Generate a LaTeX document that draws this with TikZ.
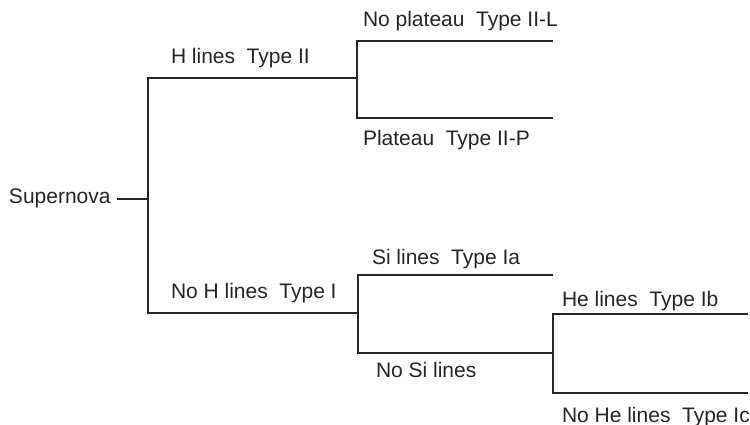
\documentclass[tikz,border=0pt]{standalone}
\usepackage{fontspec}
\setmainfont{Liberation Sans}
\definecolor{ink}{HTML}{262626}
\newcommand{\gp}{\hspace{0.55em}}
\begin{document}
\begin{tikzpicture}[x=1pt,y=-1pt,
  lbl/.style={anchor=base west,inner sep=0pt,outer sep=0pt,text=ink,font=\fontsize{21}{24}\selectfont},
  tree/.style={draw=ink,line width=1.3pt}]
\useasboundingbox (0,0) rectangle (750,425);
% labels
\node[lbl] (sn) at (9,204) {Supernova};
\node[lbl] (h2) at (171,64) {H lines\gp Type II};
\node[lbl] (nh) at (171,298) {No H lines\gp Type I};
\node[lbl] (iil) at (363,27) {No plateau\gp Type II-L};
\node[lbl] (iip) at (363,146) {Plateau\gp Type II-P};
\node[lbl] (ia) at (372,264) {Si lines\gp Type Ia};
\node[lbl] (nsi) at (376,377) {No Si lines};
\node[lbl] (ib) at (562,306) {He lines\gp Type Ib};
\node[lbl] (ic) at (562,422) {No He lines\gp Type Ic};
% junction coordinates
\coordinate (s0) at (117,199);
\coordinate (s1) at (148,199);
\coordinate (a1) at (148,78);
\coordinate (a2) at (357,78);
\coordinate (b1) at (148,313);
\coordinate (b2) at (358,313);
\coordinate (c1) at (357,41);
\coordinate (c2) at (553,41);
\coordinate (d1) at (357,118);
\coordinate (d2) at (553,118);
\coordinate (e1) at (358,275);
\coordinate (e2) at (553,275);
\coordinate (f1) at (358,353);
\coordinate (f2) at (553,353);
\coordinate (g1) at (553,314);
\coordinate (g2) at (748,314);
\coordinate (h1) at (553,393);
\coordinate (h2e) at (748,393);
% connectors
\draw[tree] (s0) -- (s1);
\draw[tree] (a2) -- (a1) -- (b1) -- (b2);
\draw[tree] (c2) -- (c1) -- (d1) -- (d2);
\draw[tree] (e2) -- (e1) -- (f1) -- (f2);
\draw[tree] (g2) -- (g1) -- (h1) -- (h2e);
\end{tikzpicture}
\end{document}
